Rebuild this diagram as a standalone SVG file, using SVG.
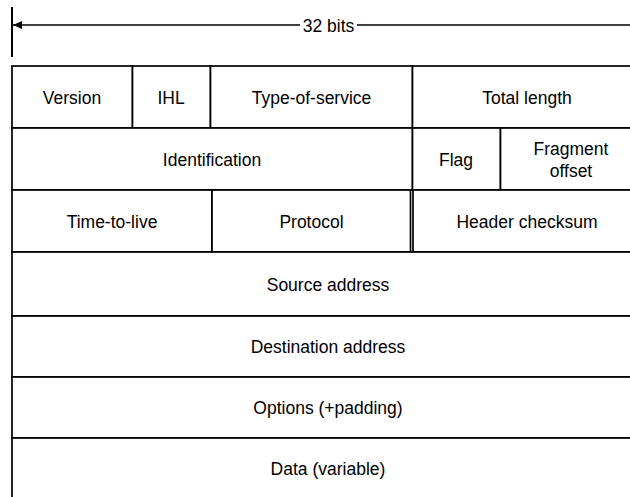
<svg xmlns="http://www.w3.org/2000/svg" width="630" height="497" viewBox="0 0 630 497">
  <defs>
    <marker id="arr" markerWidth="10" markerHeight="8" refX="9" refY="4" orient="auto" markerUnits="userSpaceOnUse">
      <path d="M0,0 L9,4 L0,8 Z" fill="#000"/>
    </marker>
    <style>
      .cell { fill: #fff; stroke: #000; stroke-width: 1.7; }
      .lbl { font-family: "Liberation Sans", Arial, sans-serif; font-size: 17.5px; fill: #000; text-anchor: middle; }
      .ln { stroke: #000; fill: none; }
    </style>
  </defs>
  <rect width="630" height="497" fill="#fff"/>

  <g id="connectors">
    <line class="ln" x1="12" y1="7" x2="12" y2="57" stroke-width="2"/>
    <line class="ln" x1="300" y1="25" x2="13" y2="25" stroke-width="1.4" marker-end="url(#arr)"/>
    <line class="ln" x1="357" y1="25" x2="632" y2="25" stroke-width="1.4"/>
    <text class="lbl" x="328.5" y="31.5">32 bits</text>
  </g>

  <g id="version"><rect class="cell" x="12" y="66" width="120.5" height="62"/><text class="lbl" x="72" y="103.5">Version</text></g>
  <g id="ihl"><rect class="cell" x="132.5" y="66" width="78" height="62"/><text class="lbl" x="171" y="103.5">IHL</text></g>
  <g id="tos"><rect class="cell" x="210.5" y="66" width="202" height="62"/><text class="lbl" x="311.5" y="103.5">Type-of-service</text></g>
  <g id="total-length"><rect class="cell" x="412.5" y="66" width="229" height="62"/><text class="lbl" x="527" y="103.5">Total length</text></g>

  <g id="identification"><rect class="cell" x="12" y="128" width="400.5" height="62"/><text class="lbl" x="212" y="165.5">Identification</text></g>
  <g id="flag"><rect class="cell" x="412.5" y="128" width="88" height="62"/><text class="lbl" x="456" y="165.5">Flag</text></g>
  <g id="fragment-offset"><rect class="cell" x="500.5" y="128" width="141" height="62"/><text class="lbl" x="571" y="155">Fragment</text><text class="lbl" x="571" y="177">offset</text></g>

  <g id="ttl"><rect class="cell" x="12" y="190" width="200" height="62"/><text class="lbl" x="112" y="227.5">Time-to-live</text></g>
  <g id="protocol"><rect class="cell" x="212" y="190" width="198.5" height="62"/><text class="lbl" x="311.5" y="227.5">Protocol</text></g>
  <g id="checksum"><rect class="cell" x="413" y="190" width="228.5" height="62"/><text class="lbl" x="527" y="227.5">Header checksum</text></g>

  <g id="source"><rect class="cell" x="12" y="252" width="629.5" height="64"/><text class="lbl" x="328" y="290.5">Source address</text></g>
  <g id="destination"><rect class="cell" x="12" y="316" width="629.5" height="61"/><text class="lbl" x="328" y="352.5">Destination address</text></g>
  <g id="options"><rect class="cell" x="12" y="377" width="629.5" height="61"/><text class="lbl" x="328" y="413.5">Options (+padding)</text></g>
  <g id="data"><rect class="cell" x="12" y="438" width="629.5" height="64"/><text class="lbl" x="328" y="474.5">Data (variable)</text></g>
</svg>
